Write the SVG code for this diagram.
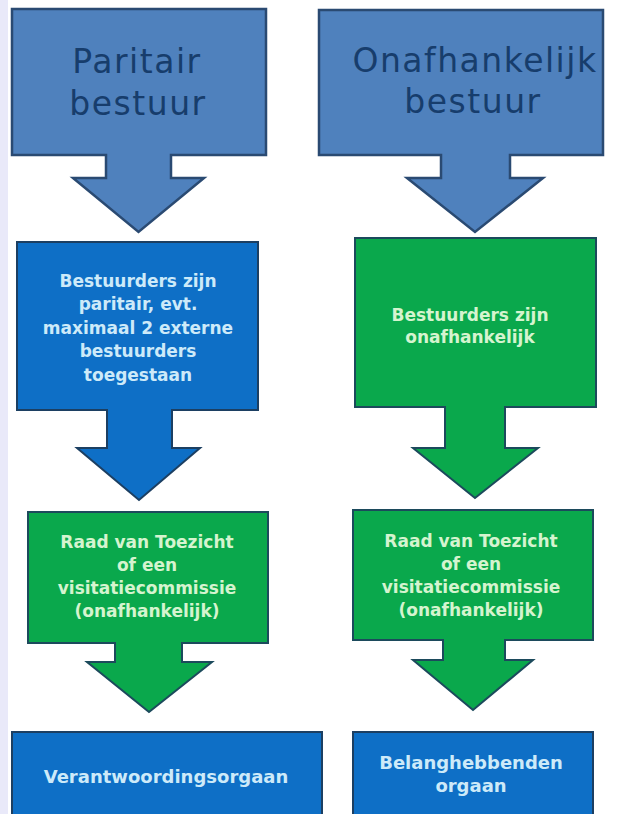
<svg xmlns="http://www.w3.org/2000/svg" width="623" height="814" viewBox="0 0 623 814">
<style>
.title{font-family:"DejaVu Sans","Liberation Sans",sans-serif;font-size:33px;letter-spacing:1.5px;fill:#173d6c;text-anchor:middle}
.lbl{font-family:"DejaVu Sans","Liberation Sans",sans-serif;font-weight:bold;font-size:17px;text-anchor:middle}
.big{font-size:18px}
.onblue{fill:#cdeaf9}
.ongreen{fill:#d5f4cf}
.top{fill:#4f81bd;stroke:#2a4a72;stroke-width:2.5;stroke-linejoin:miter}
.blue{fill:#0e6fc6;stroke:#1c3f62;stroke-width:2;stroke-linejoin:miter}
.green{fill:#0aa84c;stroke:#1c4a5c;stroke-width:2;stroke-linejoin:miter}
</style>
<rect x="0" y="0" width="623" height="814" fill="#ffffff"/>
<rect x="0" y="0" width="8" height="814" fill="#e9e9f9"/>

<g id="paritair-bestuur">
<path class="top" d="M12,9 H266 V155 H171 V178 H204 L138.5,232 L73,178 H106 V155 H12 Z"/>
<text class="title" x="137" y="73">Paritair</text>
<text class="title" x="138" y="115">bestuur</text>
</g>

<g id="onafhankelijk-bestuur">
<path class="top" d="M319,10 H603 V155 H510 V178 H543 L475,232 L407,178 H441 V155 H319 Z"/>
<text class="title" x="475" y="72">Onafhankelijk</text>
<text class="title" x="473" y="113">bestuur</text>
</g>

<g id="bestuurders-paritair">
<path class="blue" d="M17,242 H258 V410 H172 V448 H200 L139,500 L77,448 H107 V410 H17 Z"/>
<text class="lbl onblue" x="138" y="287">Bestuurders zijn</text>
<text class="lbl onblue" x="138" y="310">paritair, evt.</text>
<text class="lbl onblue" x="138" y="334">maximaal 2 externe</text>
<text class="lbl onblue" x="138" y="357">bestuurders</text>
<text class="lbl onblue" x="138" y="381">toegestaan</text>
</g>

<g id="bestuurders-onafhankelijk">
<path class="green" d="M355,238 H596 V407 H505 V448 H538 L475,498 L413,448 H445 V407 H355 Z"/>
<text class="lbl ongreen" x="470" y="321">Bestuurders zijn</text>
<text class="lbl ongreen" x="470" y="343">onafhankelijk</text>
</g>

<g id="raad-links">
<path class="green" d="M28,512 H268 V643 H182 V662 H212 L149,712 L87,662 H115 V643 H28 Z"/>
<text class="lbl ongreen" x="147" y="548">Raad van Toezicht</text>
<text class="lbl ongreen" x="147" y="571">of een</text>
<text class="lbl ongreen" x="147" y="594">visitatiecommissie</text>
<text class="lbl ongreen" x="147" y="617">(onafhankelijk)</text>
</g>

<g id="raad-rechts">
<path class="green" d="M353,510 H593 V640 H505 V660 H533 L473,710 L413,660 H443 V640 H353 Z"/>
<text class="lbl ongreen" x="471" y="547">Raad van Toezicht</text>
<text class="lbl ongreen" x="471" y="570">of een</text>
<text class="lbl ongreen" x="471" y="593">visitatiecommissie</text>
<text class="lbl ongreen" x="471" y="616">(onafhankelijk)</text>
</g>

<g id="verantwoordingsorgaan">
<rect class="blue" x="12" y="732" width="310" height="90"/>
<text class="lbl big onblue" x="166" y="783">Verantwoordingsorgaan</text>
</g>

<g id="belanghebbenden-orgaan">
<rect class="blue" x="353" y="732" width="240" height="90"/>
<text class="lbl big onblue" x="471" y="769">Belanghebbenden</text>
<text class="lbl big onblue" x="471" y="792">orgaan</text>
</g>

<g id="connectors"/>
</svg>
